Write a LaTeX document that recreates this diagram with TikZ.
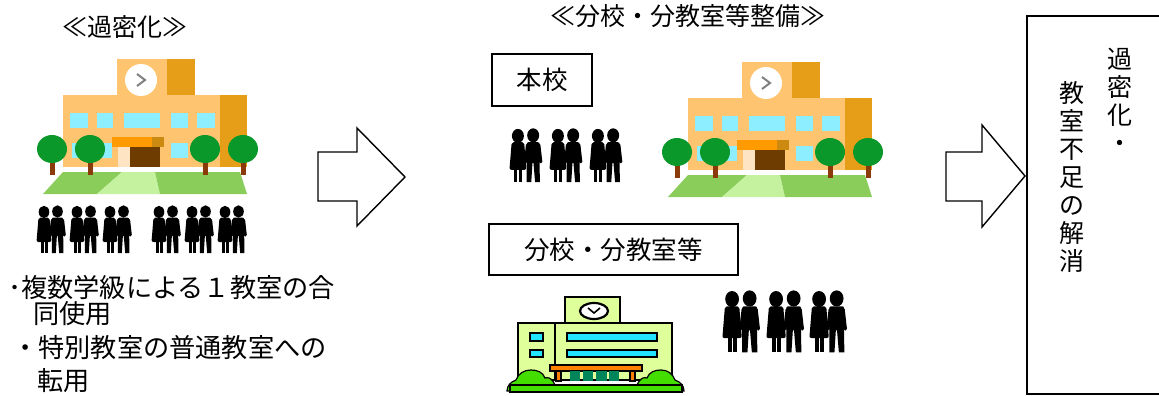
\documentclass[tikz,border=0pt]{standalone}
\usepackage{fontspec}
\setmainfont{Noto Sans CJK JP}
\usetikzlibrary{arrows.meta}

\definecolor{schoolbody}{RGB}{255,196,112}
\definecolor{schoolshade}{RGB}{230,158,24}
\definecolor{windowblue}{RGB}{140,238,255}
\definecolor{canopy}{RGB}{255,154,0}
\definecolor{canopyshade}{RGB}{204,138,16}
\definecolor{doorbrown}{RGB}{110,60,0}
\definecolor{doorlight}{RGB}{255,228,196}
\definecolor{treegreen}{RGB}{10,152,42}
\definecolor{trunk}{RGB}{139,58,10}
\definecolor{grassdark}{RGB}{138,205,90}
\definecolor{grasslight}{RGB}{197,242,158}
\definecolor{palegreen}{RGB}{222,255,153}
\definecolor{glass}{RGB}{34,229,255}
\definecolor{porch}{RGB}{255,127,0}
\definecolor{panel}{RGB}{0,133,90}
\definecolor{bush}{RGB}{68,221,0}

\begin{document}
\begin{tikzpicture}[x=1pt,y=-1pt,
  title/.style={inner sep=0pt,font=\fontsize{25}{28}\selectfont},
  note/.style={inner sep=0pt,anchor=west,font=\fontsize{26.2}{28}\selectfont},
  tagbox/.style={draw,line width=1.3pt,inner sep=0pt,font=\fontsize{25.5}{28}\selectfont},
  vtext/.style={inner sep=0pt,anchor=north,align=center,font=\fontsize{25}{28}\selectfont},
  blockarrow/.style={draw,line width=1.4pt,fill=white,line join=miter},
  bigschool/.pic={
    % building and clock tower
    \fill[schoolbody] (0,-72) rectangle (157,0);
    \fill[schoolbody] (54,-108) rectangle (104,-72);
    \fill[schoolshade] (104,-108) rectangle (132,-72);
    \fill[schoolshade] (157,-72) rectangle (184,0);
    \fill[white] (78,-87) circle (16);
    \draw[gray,line width=2pt] (74,-93) -- (82,-87) -- (74,-81);
    \foreach \a/\b in {7/25,34/50,61/97,108/125,134/152}
      \fill[windowblue] (\a,-54) rectangle (\b,-39);
    \fill[windowblue] (9,-24) rectangle (49,-9);
    \fill[windowblue] (108,-24) rectangle (125,-9);
    % entrance
    \fill[canopy] (49,-30) rectangle (89,-20);
    \fill[canopyshade] (89,-30) rectangle (101,-20);
    \fill[doorlight] (55,-20) rectangle (67,0);
    \fill[doorbrown] (67,-20) rectangle (97,0);
    % schoolyard
    \fill[grassdark] (0,5) -- (59,5) -- (34,27) -- (-20,27) -- cycle;
    \fill[grasslight] (59,5) -- (92,5) -- (97,27) -- (34,27) -- cycle;
    \fill[grassdark] (92,5) -- (177,5) -- (184,27) -- (97,27) -- cycle;
    \foreach \t in {-11,27,142,180} {
      \fill[trunk] (\t-2.5,-10) rectangle (\t+2.5,8);
      \fill[treegreen] (\t,-18) ellipse [x radius=15,y radius=14];
    }
  },
  pupils/.pic={
    % woman with skirt
    \fill (7,7) ellipse [x radius=5.3,y radius=6.2];
    \fill[rounded corners=2pt] (1.5,12.5) -- (12.5,12.5) -- (14.5,37) -- (-0.5,37) -- cycle;
    \fill (3.5,35) rectangle (6.6,48);
    \fill (7.6,35) rectangle (10.6,48);
    % man
    \fill (20.5,6.5) ellipse [x radius=5.3,y radius=6.2];
    \fill[rounded corners=2pt] (14.8,12.5) rectangle (26.2,31);
    \draw[line width=3.2pt,line cap=round] (15.5,15) -- (13.8,30);
    \draw[line width=3.2pt,line cap=round] (25.5,15) -- (27.2,30);
    \fill (14.8,29) -- (20,29) -- (18.8,48) -- (14.8,48) -- cycle;
    \fill (20.6,29) -- (26.2,29) -- (26.4,48) -- (22.2,48) -- cycle;
  }
]
  \clip (0,0) rectangle (1159,396);

  % before: one crowded school
  \node[title] (crowdTitle) at (125,27) {≪過密化≫};
  \pic at (63,167) {bigschool};
  \foreach \px in {37,70,103,152,185,218}
    \pic at (\px,205) {pupils};
  \node[note] (noteA) at (8,288) {･複数学級による１教室の合};
  \node[note] (noteAb) at (33,314) {同使用};
  \node[note] (noteB) at (12,348) {・特別教室の普通教室への};
  \node[note] (noteBb) at (37,381) {転用};

  \draw[blockarrow] (318,152) -- (357,152) -- (357,128) -- (405,177)
    -- (357,226) -- (357,201) -- (318,201) -- cycle;

  % after: main school plus branch school
  \node[title] (splitTitle) at (688,16) {≪分校・分教室等整備≫};
  \node[tagbox,minimum width=100pt,minimum height=52pt] (mainTag) at (542,80) {本校};
  \pic at (688,170) {bigschool};
  \foreach \px in {510,550,590}
    \pic[scale=1.13] at (\px,128) {pupils};

  \node[tagbox,minimum width=249pt,minimum height=51pt] (branchTag) at (613.5,249.5) {分校・分教室等};
  \begin{scope}[line width=1.2pt]
    \filldraw[fill=palegreen] (565,297) rectangle (620,323);
    \filldraw[fill=palegreen] (518,323) rectangle (555,380);
    \filldraw[fill=palegreen] (555,323) rectangle (672,380);
    \filldraw[fill=white,line width=2.2pt] (594,311) ellipse [x radius=14,y radius=8];
    \draw[line width=1.6pt] (588,308) -- (594,313) -- (600,308);
    \filldraw[fill=glass] (530,333) rectangle (543,341);
    \filldraw[fill=glass] (530,350) rectangle (543,357);
    \filldraw[fill=glass] (567,333) rectangle (657,341);
    \filldraw[fill=glass] (567,350) rectangle (657,357);
    \filldraw[fill=porch] (550,365) rectangle (642,371);
    \filldraw[fill=porch] (556,371) rectangle (561,381);
    \filldraw[fill=porch] (630,371) rectangle (635,381);
    \foreach \a/\b in {570/580,583/593,596/607,609/619}
      \fill[panel] (\a,371) rectangle (\b,381);
    \filldraw[fill=bush] (507,391) to[out=90,in=200] (516,380) to[out=70,in=180] (531,370)
      to[out=0,in=110] (545,378) to[out=20,in=90] (556,391) -- cycle;
    \filldraw[fill=bush] (636,391) to[out=90,in=160] (647,378) to[out=70,in=180] (661,370)
      to[out=0,in=110] (675,380) to[out=-20,in=90] (684,391) -- cycle;
    \filldraw[fill=bush] (510,385) rectangle (682,392);
  \end{scope}
  \foreach \px in {723,767,810}
    \pic[scale=1.3] at (\px,290) {pupils};

  \draw[blockarrow] (946,152) -- (982,152) -- (982,125) -- (1025,176)
    -- (982,227) -- (982,201) -- (946,201) -- cycle;

  % result
  \draw[line width=2pt] (1027,16) rectangle (1175,394);
  \node[vtext] (resultA) at (1120,48) {過\\密\\化\\・};
  \node[vtext] (resultB) at (1072,81) {教\\室\\不\\足\\の\\解\\消};
\end{tikzpicture}
\end{document}
